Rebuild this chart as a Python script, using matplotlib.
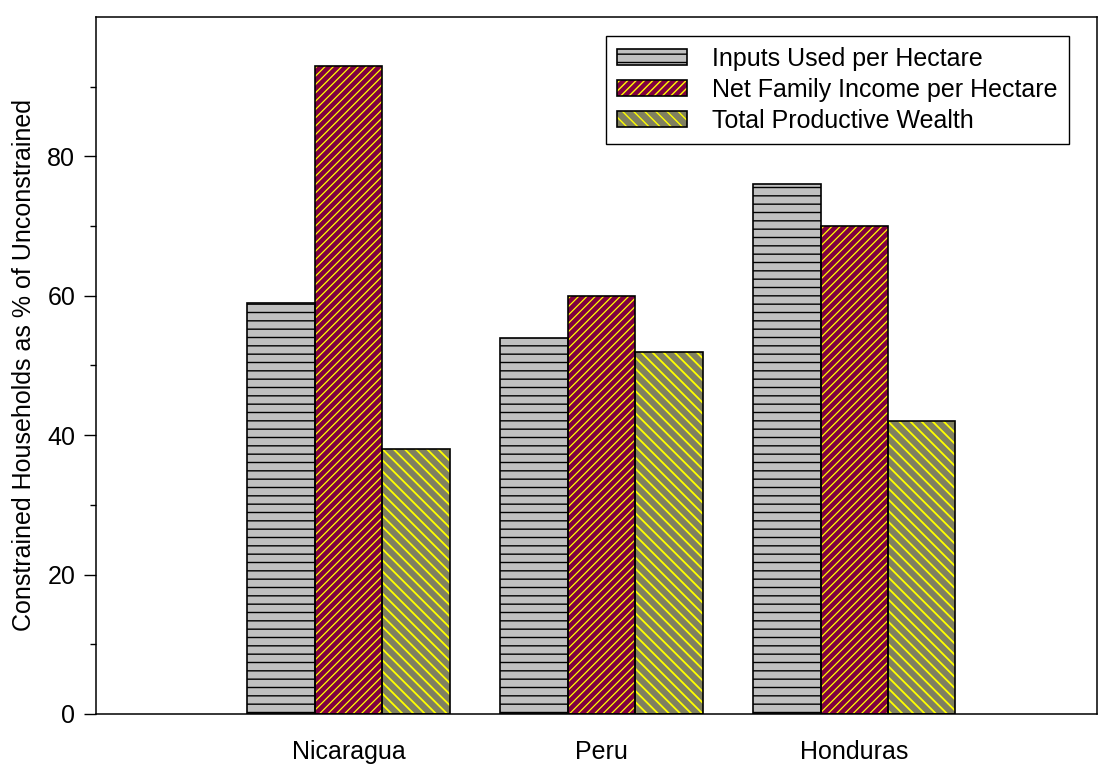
import numpy as np
import matplotlib
matplotlib.use("Agg")
import matplotlib.pyplot as plt
from matplotlib.ticker import FixedLocator

plt.rcParams['font.family'] = ['Liberation Sans', 'DejaVu Sans']

# Data
countries = ['Nicaragua', 'Peru', 'Honduras']
series = ['Inputs Used per Hectare', 'Net Family Income per Hectare', 'Total Productive Wealth']
inputs = [59, 54, 76]
income = [93, 60, 70]
wealth = [38, 52, 42]

# Styles per series
faces = ['#c0c0c0', '#800040', '#808060']
hatch_cols = ['black', '#ffff00', '#ffff00']
hatches = ['--', '////', '\\\\\\']
hatch_lw = [1.0, 0.9, 1.3]

fig = plt.figure(figsize=(10.98, 7.65), dpi=100)
ax = fig.add_axes([0.0874, 0.0667, 0.9116, 0.9111])

x = np.arange(1, len(countries) + 1)
w = 0.267
handles = []
for i, vals in enumerate([inputs, income, wealth]):
    pos = x + (i - 1) * w
    with plt.rc_context({'hatch.linewidth': hatch_lw[i]}):
        # hatched fill (hatch takes the edge colour), then black outline on top
        bars = ax.bar(pos, vals, w, color=faces[i], edgecolor=hatch_cols[i],
                      hatch=hatches[i], linewidth=0, zorder=2)
        p1 = plt.Rectangle((0, 0), 1, 1, facecolor=faces[i], edgecolor=hatch_cols[i],
                           hatch=hatches[i], linewidth=0)
    for b in list(bars) + [p1]:
        if hasattr(b, 'set_hatch_linewidth'):
            b.set_hatch_linewidth(hatch_lw[i])
    ax.bar(pos, vals, w, fill=False, edgecolor='black', linewidth=1.2, zorder=3)
    p2 = plt.Rectangle((0, 0), 1, 1, fill=False, edgecolor='black', linewidth=1.2)
    handles.append((p1, p2))

ax.set_xlim(0, 3.96)
ax.set_ylim(0, 100)
ax.set_xticks(x)
ax.set_xticklabels(countries)
ax.set_yticks([0, 20, 40, 60, 80])
ax.yaxis.set_minor_locator(FixedLocator([10, 30, 50, 70, 90]))
ax.tick_params(axis='x', length=0, pad=19, labelsize=18)
ax.tick_params(axis='y', which='major', length=9, width=1, pad=6, labelsize=18)
ax.tick_params(axis='y', which='minor', length=4.5, width=1)
for s in ax.spines.values():
    s.set_linewidth(1.1)

ax.set_ylabel('Constrained Households as % of Unconstrained', fontsize=18, labelpad=8)

leg = ax.legend(handles, series, loc='upper right', bbox_to_anchor=(0.972, 0.973),
                fontsize=18, fancybox=False, edgecolor='black', framealpha=1,
                handlelength=2.8, handleheight=0.6, handletextpad=1.0,
                labelspacing=0.28, borderpad=0.45, borderaxespad=0)
leg.get_frame().set_linewidth(1.0)

plt.savefig('out.png', dpi=100)
